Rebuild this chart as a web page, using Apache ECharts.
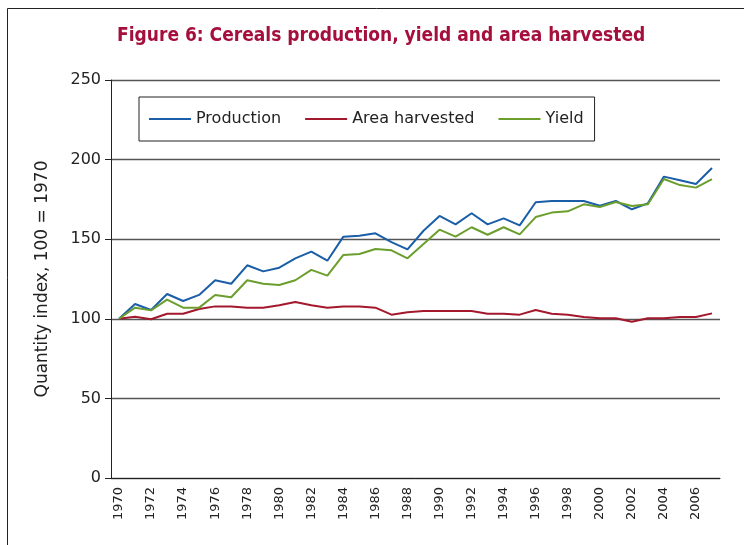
<!DOCTYPE html>
<html>
<head>
<meta charset="utf-8">
<script src="https://cdn.jsdelivr.net/npm/echarts@6/dist/echarts.min.js"></script>
<style>html,body{margin:0;padding:0;background:#fff;}#c{width:744px;height:545px;}</style>
</head>
<body>
<div id="c"></div>
<script>
var years = [];
for (var y = 1970; y <= 2007; y++) years.push(String(y));
var production = [100,109.3,105.5,115.6,111.2,115,124.2,122,133.6,129.8,132.1,138,142.2,136.5,151.6,152.2,153.7,148.2,143.6,155.3,164.6,159.3,166.3,159.3,163.1,158.7,173.2,174,174,174,171,174,168.8,172.5,189.3,187,184.7,194.7];
var area = [100,101.3,99.7,103.2,103.2,106.2,107.8,107.8,107,107,108.5,110.6,108.5,107,107.8,107.8,107,102.6,104.1,104.9,104.9,104.9,104.9,103.2,103.2,102.6,105.5,103.2,102.6,101.1,100.3,100.3,98.2,100.3,100.3,101.1,101.1,103.4];
var yieldIdx = [100,107,105.3,112,107,107,115,113.5,124.2,122,121.2,124.2,130.7,127.1,140.1,140.7,143.8,143,138,147,156,151.6,157.5,152.8,157.5,153,163.9,166.7,167.5,171.9,170.2,173.4,170.9,171.9,187.8,184,182.4,187.8];
var titleText = 'Figure 6: Cereals production, yield and area harvested';
var yName = 'Quantity index, 100 = 1970';

var chart = echarts.init(document.getElementById('c'), null, {renderer: 'canvas'});
var lbl = {fontFamily: 'DejaVu Sans', color: '#222'};
function s(name, data, color) {
  return {name: name, type: 'line', data: data, symbol: 'none', smooth: false,
    lineStyle: {color: color, width: 2}, itemStyle: {color: color}, animation: false};
}
chart.setOption({
  animation: false,
  title: {text: titleText, left: 117, top: 27, padding: 0,
    textStyle: {fontFamily: '"DejaVu Sans Condensed", "DejaVu Sans", sans-serif', fontWeight: 'bold', fontSize: 19, color: '#a50f3c'}},
  graphic: [{type: 'rect', shape: {x: 7.5, y: 8.5, width: 760, height: 560},
    style: {fill: 'none', stroke: '#222', lineWidth: 1}, silent: true}],
  legend: {left: 139, top: 97, padding: [14, 11, 14, 10], itemGap: 24, itemWidth: 42, itemHeight: 2,
    icon: 'rect', borderColor: '#222', borderWidth: 1, backgroundColor: '#fff',
    textStyle: {fontFamily: 'DejaVu Sans', fontSize: 16, color: '#222'},
    data: ['Production', 'Area harvested', 'Yield']},
  grid: {left: 111, right: 24, top: 80, bottom: 67, containLabel: false},
  xAxis: {type: 'category', data: years, boundaryGap: true,
    axisLine: {lineStyle: {color: '#222', width: 1}},
    axisTick: {interval: 0, length: 6, lineStyle: {color: '#222'}},
    axisLabel: Object.assign({interval: 1, rotate: 90, fontSize: 13, margin: 9}, lbl),
    splitLine: {show: false}},
  yAxis: {type: 'value', min: 0, max: 250, interval: 50,
    name: yName, nameLocation: 'middle', nameRotate: 90, nameGap: 60,
    nameTextStyle: {fontFamily: 'DejaVu Sans', fontSize: 17, color: '#222'},
    axisLine: {show: true, lineStyle: {color: '#222'}},
    axisTick: {show: true, length: 6, lineStyle: {color: '#222'}},
    axisLabel: Object.assign({fontSize: 16, margin: 10}, lbl),
    splitLine: {lineStyle: {color: '#555', width: 1.3}}},
  series: [s('Production', production, '#1a5ea8'), s('Area harvested', area, '#a3182c'), s('Yield', yieldIdx, '#6b9e2d')]
});
</script>
</body>
</html>
